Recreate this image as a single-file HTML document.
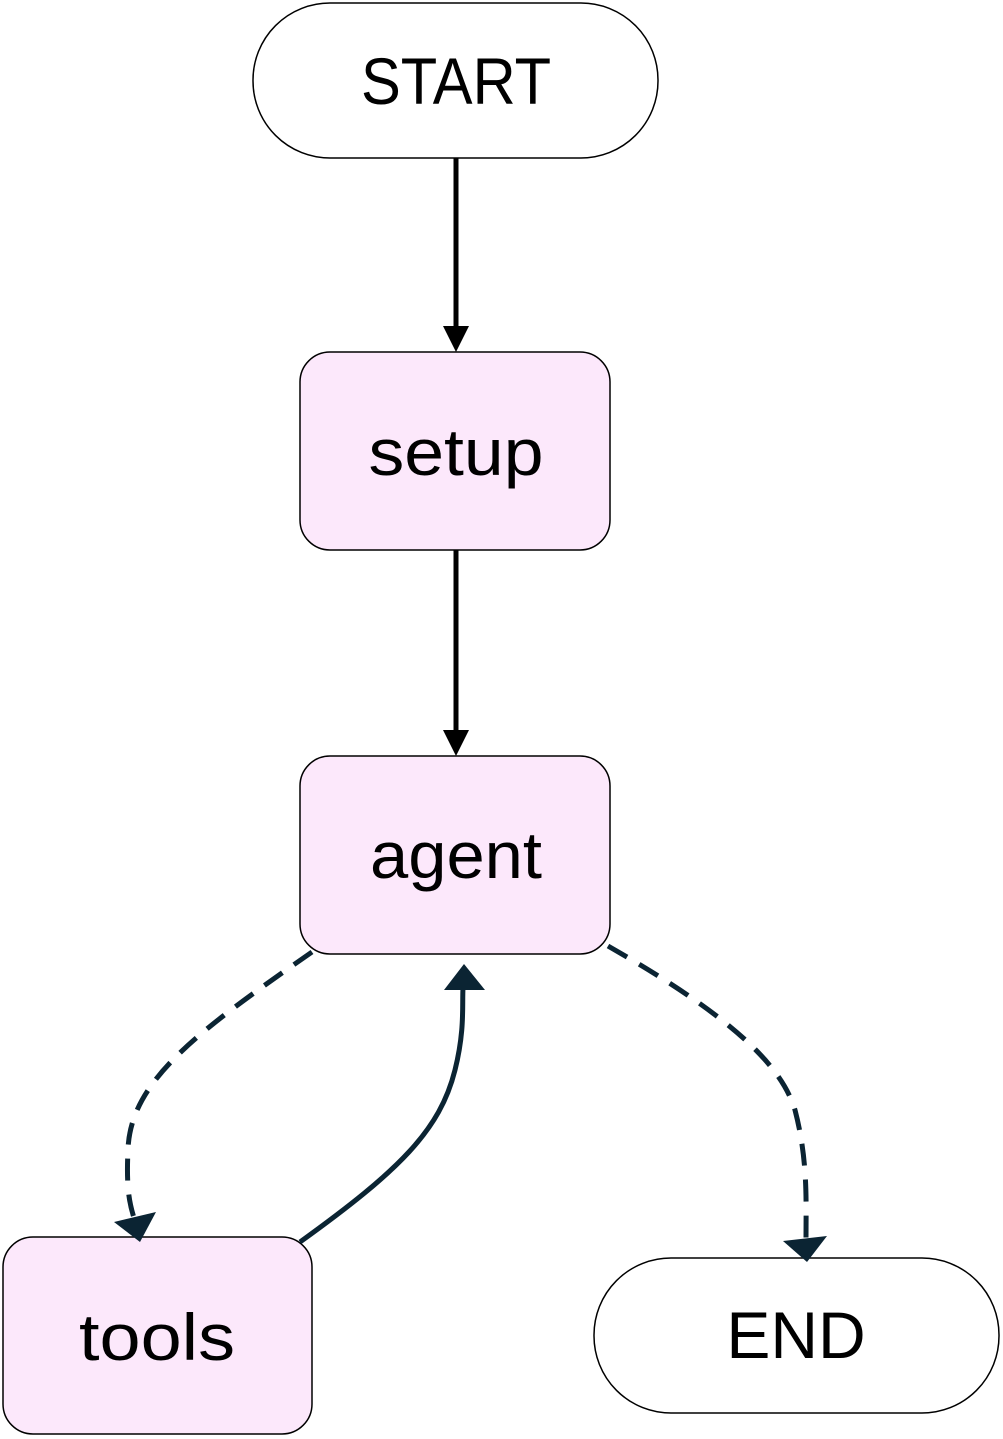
<!DOCTYPE html>
<html><head><style>html,body{margin:0;padding:0;background:#fff;}svg{display:block}</style></head>
<body>
<svg width="1003" height="1439" viewBox="0 0 1003 1439" xmlns="http://www.w3.org/2000/svg">
<g font-family="Liberation Sans, sans-serif" font-size="66" text-anchor="middle" fill="#000">
<rect x="253" y="3" width="405" height="155" rx="77" fill="#fff" stroke="#000" stroke-width="1.5"/>
<text x="456" y="104" textLength="190" lengthAdjust="spacingAndGlyphs">START</text>
<rect x="300" y="352" width="310" height="198" rx="30" fill="#fce8fb" stroke="#000" stroke-width="1.5"/>
<text x="456" y="475" textLength="175" lengthAdjust="spacingAndGlyphs">setup</text>
<rect x="300" y="756" width="310" height="198" rx="30" fill="#fce8fb" stroke="#000" stroke-width="1.5"/>
<text x="456" y="878" textLength="172" lengthAdjust="spacingAndGlyphs">agent</text>
<rect x="3" y="1237" width="309" height="197" rx="30" fill="#fce8fb" stroke="#000" stroke-width="1.5"/>
<text x="157" y="1360" textLength="156" lengthAdjust="spacingAndGlyphs">tools</text>
<rect x="594" y="1258" width="405" height="155" rx="77" fill="#fff" stroke="#000" stroke-width="1.5"/>
<text x="796" y="1358">END</text>
</g>
<line x1="456" y1="158" x2="456" y2="330" stroke="#000" stroke-width="5"/>
<path d="M443,326 L469,326 L456,352 z" fill="#000"/>
<line x1="456" y1="550" x2="456" y2="734" stroke="#000" stroke-width="5"/>
<path d="M443,730 L469,730 L456,756 z" fill="#000"/>
<path d="M312,952 C200,1030 130,1080 128,1150 C126,1190 130,1205 134,1218" fill="none" stroke="#0b2433" stroke-width="5" stroke-dasharray="22,14"/>
<path d="M114,1222 L156,1212 L140,1242 z" fill="#0b2433"/>
<path d="M300,1242 C400,1170 440,1130 455,1070 C465,1030 462,1005 463,988" fill="none" stroke="#0b2433" stroke-width="5"/>
<path d="M444,990 L485,990 L464,964 z" fill="#0b2433"/>
<path d="M608,946 C720,1010 780,1060 795,1110 C808,1160 806,1200 806,1238" fill="none" stroke="#0b2433" stroke-width="5" stroke-dasharray="22,14"/>
<path d="M783,1241 L827,1236 L807,1262 z" fill="#0b2433"/>
</svg>
</body></html>
